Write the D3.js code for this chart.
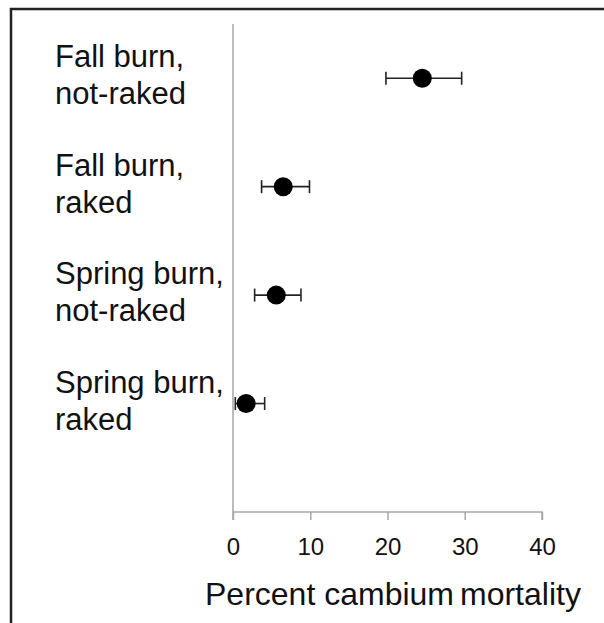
<!DOCTYPE html>
<html>
<head>
<meta charset="utf-8">
<script src="https://cdn.jsdelivr.net/npm/d3@7"></script>
<style>
  body { margin: 0; background: #fff; }
  svg text { font-family: 'Liberation Sans', Arial, sans-serif; fill: #111; }
</style>
</head>
<body>
<svg id="chart" width="604" height="623"></svg>
<script>
// treatments, top to bottom
const labels = [['Fall burn,', 'not-raked'], ['Fall burn,', 'raked'], ['Spring burn,', 'not-raked'], ['Spring burn,', 'raked']]
const means = [24.5, 6.5, 5.6, 1.7]
const lows = [19.8, 3.7, 2.8, 0.3]
const highs = [29.6, 9.9, 8.8, 4.1]
const xTicks = [0, 10, 20, 30, 40]

const svg = d3.select('#chart')

// outer frame (runs off the right and bottom edges)
svg.append('rect')
  .attr('x', 11).attr('y', 9)
  .attr('width', 700).attr('height', 700)
  .attr('fill', 'none')
  .attr('stroke', '#222')
  .attr('stroke-width', 2.5)

const xScale = d3.scaleLinear().domain([0, 40]).range([233, 542])
// rows sit at 4, 3, 2, 1 on a 0..4.5 scale, like the spreadsheet original
const yScale = d3.scaleLinear().domain([0, 4.5]).range([512, 24])
const rowY = (i) => yScale(4 - i)

// vertical axis line
svg.append('line')
  .attr('x1', xScale(0)).attr('x2', xScale(0))
  .attr('y1', yScale(4.5)).attr('y2', yScale(0))
  .attr('stroke', '#a6a6a6').attr('stroke-width', 1.5)

const xAxis = svg.append('g')
  .attr('transform', `translate(0,${yScale(0)})`)
  .call(d3.axisBottom(xScale).tickValues(xTicks).tickSize(8).tickPadding(18))
xAxis.select('.domain').attr('stroke', '#a6a6a6').attr('stroke-width', 1.5)
  .attr('d', `M${xScale(0)},8V0H${xScale(40)}V8`)
xAxis.selectAll('.tick line').attr('stroke', '#a6a6a6').attr('stroke-width', 1.5)
xAxis.selectAll('.tick text')
  .style('font-size', '24px')
  .style('font-family', "'Liberation Sans', Arial, sans-serif")
  .attr('fill', '#222')

const title = svg.append('text')
  .attr('x', 205).attr('y', 605)
  .style('font-size', '32px')
title.append('tspan').text('Percent cambium')
title.append('tspan').attr('dx', 6).text('mortality')

// category labels
labels.forEach((lines, i) => {
  svg.append('text')
    .attr('x', 55).attr('y', rowY(i) - 11)
    .style('font-size', '31px')
    .text(lines[0])
  svg.append('text')
    .attr('x', 55).attr('y', rowY(i) + 26)
    .style('font-size', '31px')
    .text(lines[1])
})

// error bars
const bars = svg.append('g').attr('stroke', '#222').attr('stroke-width', 1.6)
means.forEach((m, i) => {
  const y = rowY(i)
  bars.append('line')
    .attr('x1', xScale(lows[i])).attr('x2', xScale(highs[i]))
    .attr('y1', y).attr('y2', y)
  ;[lows[i], highs[i]].forEach((v) => {
    bars.append('line')
      .attr('x1', xScale(v)).attr('x2', xScale(v))
      .attr('y1', y - 6.5).attr('y2', y + 6.5)
  })
})

svg.selectAll('circle.pt')
  .data(means)
  .enter()
  .append('circle')
  .attr('class', 'pt')
  .attr('cx', (d) => xScale(d))
  .attr('cy', (d, i) => rowY(i))
  .attr('r', 9.5)
  .attr('fill', '#000')
</script>
</body>
</html>
